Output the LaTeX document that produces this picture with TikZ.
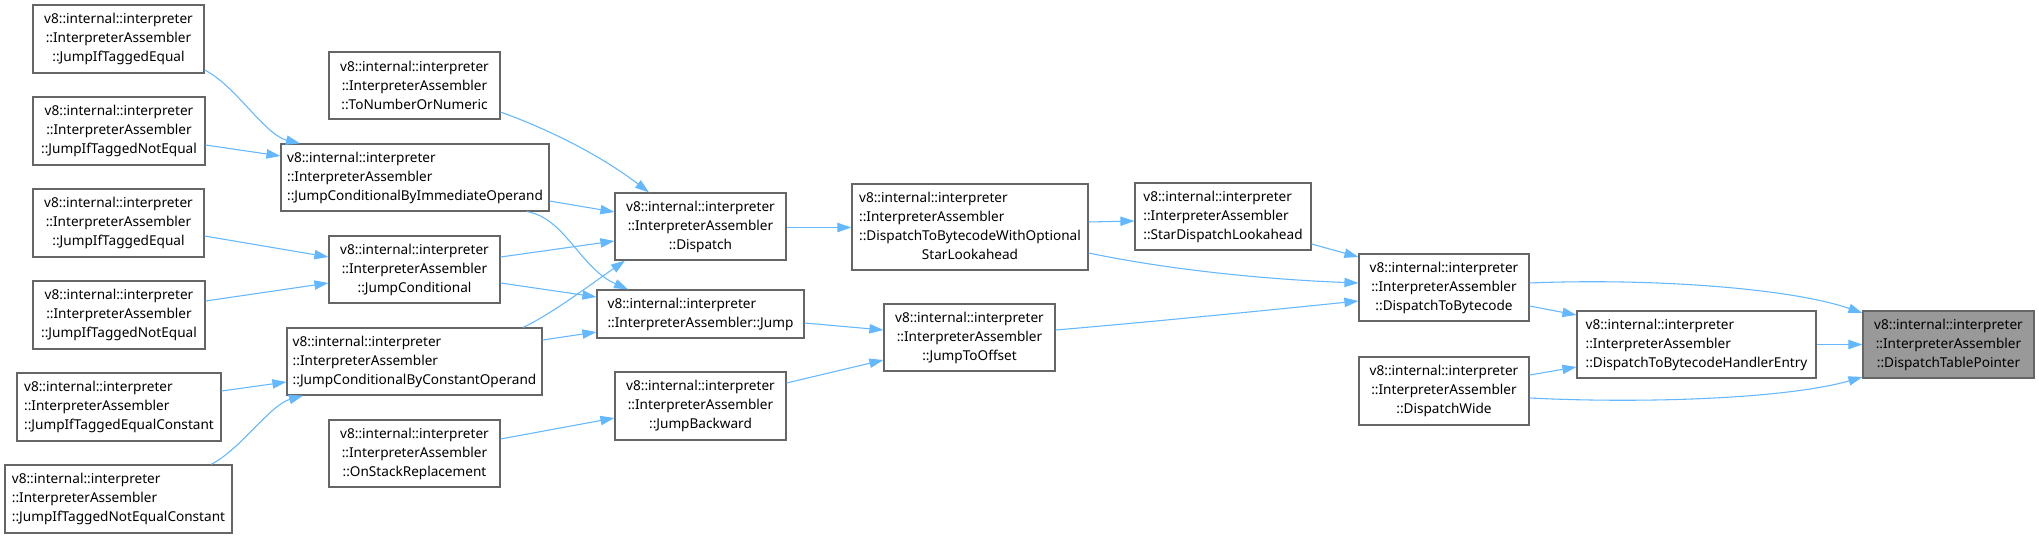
\documentclass[tikz,border=0pt]{standalone}
\usepackage{fontspec}
\setmainfont{Noto Sans}
\usetikzlibrary{arrows.meta}
\definecolor{edgeblue}{HTML}{63B8FF}
\definecolor{boxgray}{HTML}{666666}
\definecolor{fillgray}{HTML}{999999}
\newcommand{\vIA}{v8::internal::interpreter\\::InterpreterAssembler}
\newcommand{\ltab}[1]{\begin{tabular}{@{}l@{}}#1\end{tabular}}
\begin{document}
\begin{tikzpicture}[x=0.75pt,y=-0.75pt,
  cbox/.style 2 args={draw=boxgray, line width=0.9pt, fill=white,
    minimum width=#1*0.75pt, minimum height=#2*0.75pt, inner sep=0pt,
    font=\fontsize{10.2}{14.25}\selectfont, align=center},
  ed/.style={draw=edgeblue, line width=0.8pt, -{Triangle[length=10.5pt,width=7pt]}}]
\useasboundingbox[fill=white] (0,0) rectangle (2039,538);
% column 1
\node[cbox={171}{68}] (jite1) at (118.5,39) {\vIA\\::JumpIfTaggedEqual};
\node[cbox={172}{68}] (jitne1) at (119,131) {\vIA\\::JumpIfTaggedNotEqual};
\node[cbox={171}{68}] (jite2) at (118.5,223) {\vIA\\::JumpIfTaggedEqual};
\node[cbox={172}{68}] (jitne2) at (119,315) {\vIA\\::JumpIfTaggedNotEqual};
\node[cbox={204}{68}] (jitec) at (119,407) {\ltab{\vIA\\::JumpIfTaggedEqualConstant}};
\node[cbox={227}{68}] (jitnec) at (118.5,499) {\ltab{\vIA\\::JumpIfTaggedNotEqualConstant}};
% column 2
\node[cbox={171}{67}] (tonum) at (414.5,85.5) {\vIA\\::ToNumberOrNumeric};
\node[cbox={268}{67}] (jcbio) at (415,177.5) {\ltab{\vIA\\::JumpConditionalByImmediateOperand}};
\node[cbox={171}{67}] (jcond) at (414.5,269.5) {\vIA\\::JumpConditional};
\node[cbox={255}{67}] (jcbco) at (414.5,361.5) {\ltab{\vIA\\::JumpConditionalByConstantOperand}};
\node[cbox={171}{67}] (osr) at (414.5,453.5) {\vIA\\::OnStackReplacement};
% column 3
\node[cbox={171}{67}] (disp) at (700.5,226.5) {\vIA\\::Dispatch};
\node[cbox={207}{48}] (jump) at (700.5,314) {\ltab{v8::internal::interpreter\\::InterpreterAssembler::Jump}};
\node[cbox={171}{68}] (jback) at (700.5,406) {\vIA\\::JumpBackward};
% column 4
\node[cbox={236}{86}] (dtbwosl) at (970,227) {\begin{tabular}{@{}l@{}}\vIA\\::DispatchToBytecodeWithOptional\\\multicolumn{1}{@{}c@{}}{StarLookahead}\end{tabular}};
\node[cbox={171}{67}] (jto) at (969.5,337.5) {\vIA\\::JumpToOffset};
% column 5
\node[cbox={176}{67}] (sdl) at (1223,216.5) {\ltab{\vIA\\::StarDispatchLookahead}};
% column 6
\node[cbox={170}{67}] (dtb) at (1444,287.5) {\vIA\\::DispatchToBytecode};
\node[cbox={170}{68}] (dwide) at (1444,391) {\vIA\\::DispatchWide};
% column 7
\node[cbox={239}{67}] (dtbhe) at (1696.5,344.5) {\ltab{\vIA\\::DispatchToBytecodeHandlerEntry}};
% column 8
\node[cbox={171}{67}, fill=fillgray] (dtp) at (1948.5,344.5) {\vIA\\::DispatchTablePointer};
% edges
\draw[ed] (jite1.east |- 0,70) .. controls (235,85) and (265,135) .. (jcbio.north -| 300,0);
\draw[ed] (jitne1.east |- 0,145) -- (jcbio.west |- 0,156);
\draw[ed] (jite2.east |- 0,236) -- (jcond.west |- 0,257);
\draw[ed] (jitne2.east |- 0,301) -- (jcond.west |- 0,283);
\draw[ed] (jitec.east |- 0,391) -- (jcbco.west |- 0,382);
\draw[ed] (jitnec.north -| 211,0) .. controls (240,450) and (270,405) .. (jcbco.south -| 303,0);
\draw[ed] (tonum.east |- 0,112) .. controls (550,130) and (600,155) .. (disp.north -| 649,0);
\draw[ed] (jcbio.east |- 0,201) -- (disp.west |- 0,212);
\draw[ed] (jcbio.south -| 527,0) .. controls (565,218) and (580,268) .. (jump.north -| 628,0);
\draw[ed] (jcond.east |- 0,257) -- (disp.west |- 0,241);
\draw[ed] (jcond.east |- 0,283) -- (jump.west |- 0,297);
\draw[ed] (jcbco.north -| 523,0) .. controls (550,315) and (590,285) .. (disp.south -| 625,0);
\draw[ed] (jcbco.east |- 0,340) -- (jump.west |- 0,332);
\draw[ed] (osr.east |- 0,439) -- (jback.west |- 0,418);
\draw[ed] (disp.east |- 0,227.5) -- (dtbwosl.west |- 0,227.5);
\draw[ed] (jump.east |- 0,323) -- (jto.west |- 0,330);
\draw[ed] (jback.east |- 0,383) -- (jto.west |- 0,360);
\draw[ed] (dtbwosl.east |- 0,222) -- (sdl.west |- 0,221);
\draw[ed] (dtbwosl.east |- 0,253) .. controls (1180,272) and (1280,280) .. (dtb.west |- 0,283);
\draw[ed] (sdl.east |- 0,244) -- (dtb.west |- 0,257);
\draw[ed] (jto.east |- 0,330) .. controls (1150,322) and (1260,311) .. (dtb.west |- 0,301);
\draw[ed] (dtb.east |- 0,283) .. controls (1650,278) and (1790,288) .. (dtp.west |- 0,313);
\draw[ed] (dtb.east |- 0,306) -- (dtbhe.west |- 0,315);
\draw[ed] (dwide.east |- 0,375) -- (dtbhe.west |- 0,367);
\draw[ed] (dwide.east |- 0,398) .. controls (1650,404) and (1790,398) .. (dtp.west |- 0,377);
\draw[ed] (dtbhe.east |- 0,344.5) -- (dtp.west |- 0,344.5);
\end{tikzpicture}
\end{document}
